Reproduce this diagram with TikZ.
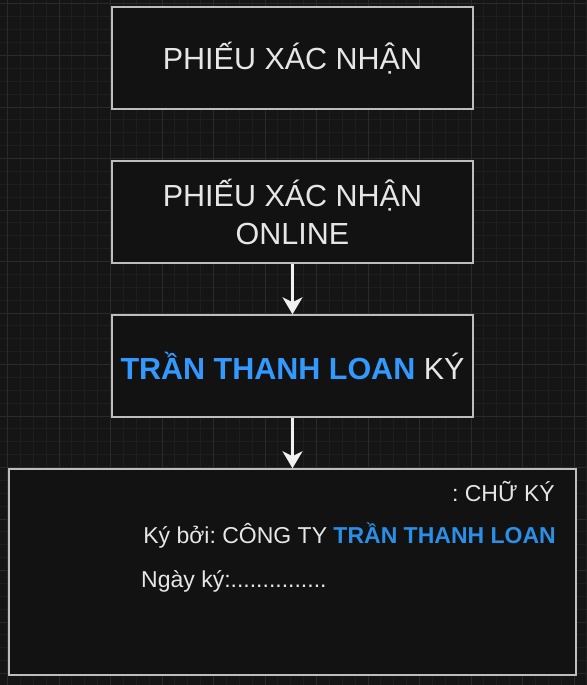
\documentclass[tikz,border=0pt]{standalone}
\usepackage{fontspec}
\setmainfont{Liberation Sans}
\usetikzlibrary{arrows.meta}
\frenchspacing

\definecolor{canvas}{HTML}{151515}
\definecolor{minorgrid}{HTML}{1E1E1E}
\definecolor{majorgrid}{HTML}{2A2A2A}
\definecolor{boxfill}{HTML}{121212}
\definecolor{boxline}{HTML}{BDBDBD}
\definecolor{txt}{HTML}{E6E6E6}
\definecolor{nameblue}{HTML}{3399FF}
\definecolor{signblue}{HTML}{2B8FE8}

\tikzset{
  stepbox/.style={draw=boxline, line width=1.5pt, fill=boxfill, text=txt,
    minimum width=361pt, minimum height=102pt, inner sep=0pt, align=center,
    font=\fontsize{30.5}{38}\selectfont},
  flow/.style={draw=white!94!black, line width=2.5pt,
    -{Stealth[length=17pt, width=20pt, inset=5pt]}},
  signtext/.style={text=txt, inner sep=0pt, font=\fontsize{23}{28}\selectfont}
}

\begin{document}
\begin{tikzpicture}[x=1pt, y=-1pt]
\useasboundingbox (0,0) rectangle (586,685);
\fill[canvas] (0,0) rectangle (586,685);

% grid
\foreach \i in {-1,...,46}
   \draw[minorgrid, line width=1pt] ({7.5+12.875*\i},0) -- ++(0,685);
\foreach \i in {-1,...,54}
   \draw[minorgrid, line width=1pt] (0,{4+12.875*\i}) -- ++(586,0);
\foreach \i in {0,...,11}
   \draw[majorgrid, line width=1pt] ({7.5+51.5*\i},0) -- ++(0,685);
\foreach \i in {0,...,13}
   \draw[majorgrid, line width=1pt] (0,{4+51.5*\i}) -- ++(586,0);

\node[stepbox] (phieu) at (292.5,58) {PHIẾU XÁC NHẬN};
\node[stepbox] (online) at (292.5,212) {PHIẾU XÁC NHẬN\\ONLINE};
\node[stepbox] (ky) at (292.5,366) {\textcolor{nameblue}{\bfseries TRẦN THANH LOAN} KÝ};
\node[stepbox, minimum width=567pt, minimum height=206pt] (chuky) at (292.5,572) {};

\node[signtext, anchor=base east] (title) at (555,501) {: CHỮ KÝ};
\node[signtext, anchor=base east] (signer) at (556,543) {Ký bởi: CÔNG TY \textcolor{signblue}{\bfseries TRẦN THANH LOAN}};
\node[signtext, anchor=base west] (date) at (141,587) {Ngày ký:...............};

\draw[flow] (online) -- (ky);
\draw[flow] (ky) -- (chuky);
\end{tikzpicture}
\end{document}
